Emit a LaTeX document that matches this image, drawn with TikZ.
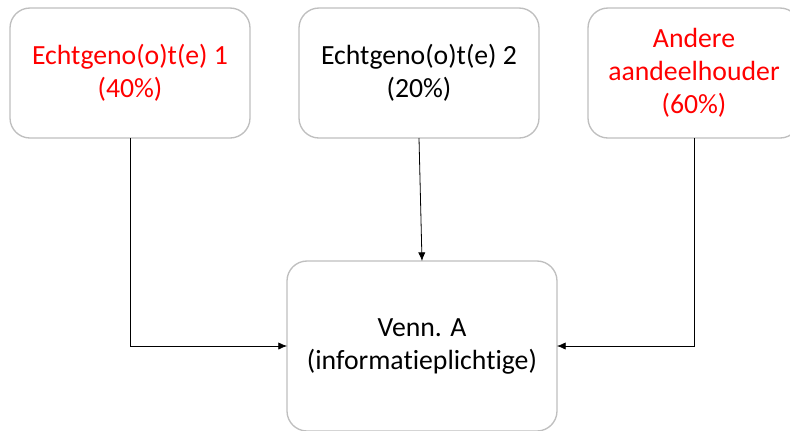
\documentclass[tikz,border=0pt]{standalone}
\usepackage{fontspec}
\setmainfont{Carlito}[Ligatures=NoCommon]
\usetikzlibrary{arrows.meta}
\definecolor{boxgray}{RGB}{191,191,191}
\definecolor{txtred}{RGB}{255,0,0}
\tikzset{
  box/.style={draw=boxgray, line width=1pt, rounded corners=15pt, fill=white,
    align=center, inner sep=0pt, outer sep=0pt,
    font=\fontsize{20.8}{24.75}\selectfont},
  conn/.style={line width=0.6pt, -{Latex[length=6.5pt,width=5.5pt]}}
}
\begin{document}
\begin{tikzpicture}[x=0.75pt,y=-0.75pt]
\useasboundingbox (0,0) rectangle (790,430);
\node[box, text=txtred, minimum width=180pt, minimum height=97.5pt] (b1) at (130,73) {Echtgeno(o)t(e) 1\\(40\%)};
\node[box, text=black, minimum width=180pt, minimum height=97.5pt] (b2) at (419,73) {Echtgeno(o)t(e) 2\\(20\%)};
\node[box, text=txtred, minimum width=159pt, minimum height=97.5pt] (b3) at (694,73) {Andere\\aandeelhouder\\(60\%)};
\node[box, text=black, minimum width=202.5pt, minimum height=127.5pt] (b4) at (422,346) {Venn. A\\(informatieplichtige)};
\draw[conn] (b1.south) |- (b4.west);
\draw[conn] (b2.south) -- (b4.north);
\draw[conn] (b3.south) |- (b4.east);
\end{tikzpicture}
\end{document}
